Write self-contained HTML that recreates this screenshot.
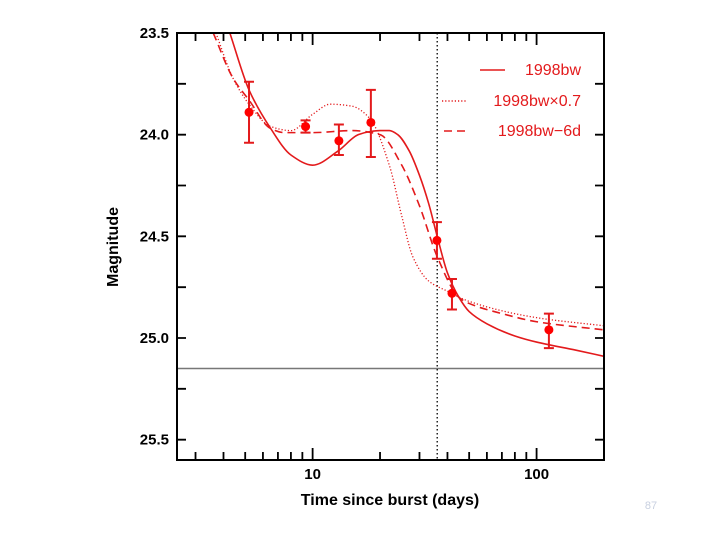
<!DOCTYPE html>
<html><head><meta charset="utf-8"><style>
body{margin:0;background:#fff;}
svg{display:block;font-family:"Liberation Sans",sans-serif;}
</style></head><body>
<svg id="c" width="720" height="540">
<g id="curves"></g><g id="pts"></g><g id="axes"></g>
</svg>
<script>
const tDays=[5.2,9.3,13.1,18.2,35.9,41.9,113.5];
const mags=[23.89,23.96,24.03,23.94,24.52,24.78,24.96];
const errLo=[23.74,23.93,23.95,23.78,24.43,24.71,24.88];
const errHi=[24.04,23.99,24.10,24.11,24.61,24.86,25.05];
const solidT=[4.27,5.2,6.5,8,10,13,16,18,20,22,24,27,30,33,36,40,45,50,60,80,100,150,200];
const solidM=[23.5,23.78,23.97,24.1,24.15,24.08,24.0,23.985,23.98,23.98,24.0,24.08,24.2,24.34,24.5,24.68,24.8,24.87,24.93,24.99,25.02,25.06,25.09];
const dashT=[3.6,4.4,5.2,6.5,7.5,10,15,20,25,30,36,45,50,70,100,200];
const dashM=[23.5,23.72,23.83,23.97,23.99,23.99,23.98,24.0,24.15,24.35,24.6,24.8,24.83,24.88,24.92,24.96];
const dotT=[3.7,4.4,5.2,6.5,8,10,12,15,18,22,25,28,33,40,50,100,200];
const dotM=[23.5,23.72,23.85,23.96,23.98,23.9,23.85,23.86,23.92,24.15,24.4,24.6,24.72,24.77,24.82,24.9,24.94];
const yTicks=[23.5,24.0,24.5,25.0,25.5];
const xLabels=[10,100];
const vLineT=36, hLineM=25.15;

const L=177,R=604,T=33,B=460;
const xmin=Math.log10(2.48),xmax=Math.log10(200),ymin=23.5,ymax=25.6;
const X=t=>L+(Math.log10(t)-xmin)/(xmax-xmin)*(R-L);
const Y=m=>T+(m-ymin)/(ymax-ymin)*(B-T);
const NS="http://www.w3.org/2000/svg";
function mk(tag,attrs,parent){const e=document.createElementNS(NS,tag);for(const k in attrs)e.setAttribute(k,attrs[k]);parent.appendChild(e);return e;}
const c=document.getElementById('c'),gc=document.getElementById('curves'),gp=document.getElementById('pts'),ga=document.getElementById('axes');
const cp=mk('clipPath',{id:'clip'},c);mk('rect',{x:L,y:T,width:R-L,height:B-T},cp);
gc.setAttribute('clip-path','url(#clip)');

function path(ts,ms){const xs=ts.map(X),ys=ms.map(Y),n=xs.length;
const dl=[],sl=[];for(let i=0;i<n-1;i++){dl.push(xs[i+1]-xs[i]);sl.push((ys[i+1]-ys[i])/dl[i]);}
const m=[sl[0]];for(let i=1;i<n-1;i++){if(sl[i-1]*sl[i]<=0)m.push(0);else{const w1=2*dl[i]+dl[i-1],w2=dl[i]+2*dl[i-1];m.push((w1+w2)/(w1/sl[i-1]+w2/sl[i]));}}m.push(sl[n-2]);
let d=`M${xs[0]},${ys[0]}`;for(let i=0;i<n-1;i++){const h=dl[i]/3;d+=` C${xs[i]+h},${ys[i]+m[i]*h} ${xs[i+1]-h},${ys[i+1]-m[i+1]*h} ${xs[i+1]},${ys[i+1]}`;}return d;}
let e;
e=mk('line',{x1:L,x2:R,y1:Y(hLineM),y2:Y(hLineM),stroke:'#777','stroke-width':1.5},gc);


e=mk('line',{x1:X(vLineT),x2:X(vLineT),y1:T,y2:B,stroke:'#000','stroke-width':1.3,'stroke-dasharray':'1.5,2.5'},gc);


e=mk('path',{d:path(solidT,solidM),fill:'none',stroke:'#e31a1c','stroke-width':1.6},gc);


e=mk('path',{d:path(dashT,dashM),fill:'none',stroke:'#e31a1c','stroke-width':1.6,'stroke-dasharray':'8,5'},gc);


e=mk('path',{d:path(dotT,dotM),fill:'none',stroke:'#e31a1c','stroke-width':1.3,'stroke-dasharray':'1.2,2'},gc);



tDays.forEach((t,i)=>{const x=X(t);
e=mk('path',{d:`M${x},${Y(errLo[i])}V${Y(errHi[i])}M${x-5},${Y(errLo[i])}h10M${x-5},${Y(errHi[i])}h10`,stroke:'#e31a1c','stroke-width':2,fill:'none'},gp);


e=mk('circle',{cx:x,cy:Y(mags[i]),r:4.5,fill:'#f00'},gp);

});

e=mk('rect',{x:L,y:T,width:R-L,height:B-T,fill:'none',stroke:'#000','stroke-width':2},ga);


let d='';
for(let m=23.5;m<=25.6;m+=0.25){const y=Y(m);d+=`M${L},${y}h9M${R},${y}h-9`;}
for(let dec=1;dec<=100;dec*=10)for(let k=1;k<10;k++){const t=k*dec;if(t<2.5||t>200)continue;const x=X(t),len=k===1?12:8;d+=`M${x},${B}v-${len}M${x},${T}v${len}`;}
mk('path',{d,stroke:'#000','stroke-width':1.8,fill:'none'},ga);
yTicks.forEach(m=>{e=mk('text',{x:169,y:Y(m)+5,'text-anchor':'end','font-size':15,'font-weight':'bold'},ga);e.textContent=m.toFixed(1);

});
xLabels.forEach(t=>{e=mk('text',{x:X(t),y:479,'text-anchor':'middle','font-size':15,'font-weight':'bold'},ga);e.textContent=t;

});
e=mk('text',{x:390,y:505,'text-anchor':'middle','font-size':16,'font-weight':'bold'},ga);e.textContent='Time since burst (days)';


e=mk('text',{x:0,y:0,'text-anchor':'middle','font-size':16,'font-weight':'bold',transform:'translate(118,247) rotate(-90)'},ga);e.textContent='Magnitude';


const leg=[['1998bw','',70],['1998bw×0.7','1.2,2',101],['1998bw−6d','8,5',131]];
leg.forEach(([lab,da,y],i)=>{
e=mk('line',{x1:i===1?442:i===2?444:480,x2:i===1?466:i===2?466:505,y1:y,y2:y,stroke:'#e31a1c','stroke-width':1.4,'stroke-dasharray':da},ga);


e=mk('text',{x:581,y:y+5,'text-anchor':'end','font-size':16,fill:'#e31a1c'},ga);e.textContent=lab;

});
e=mk('text',{x:651,y:509,'text-anchor':'middle','font-size':11,fill:'#c8d0e0'},c);e.textContent='87';


</script>
</body></html>
